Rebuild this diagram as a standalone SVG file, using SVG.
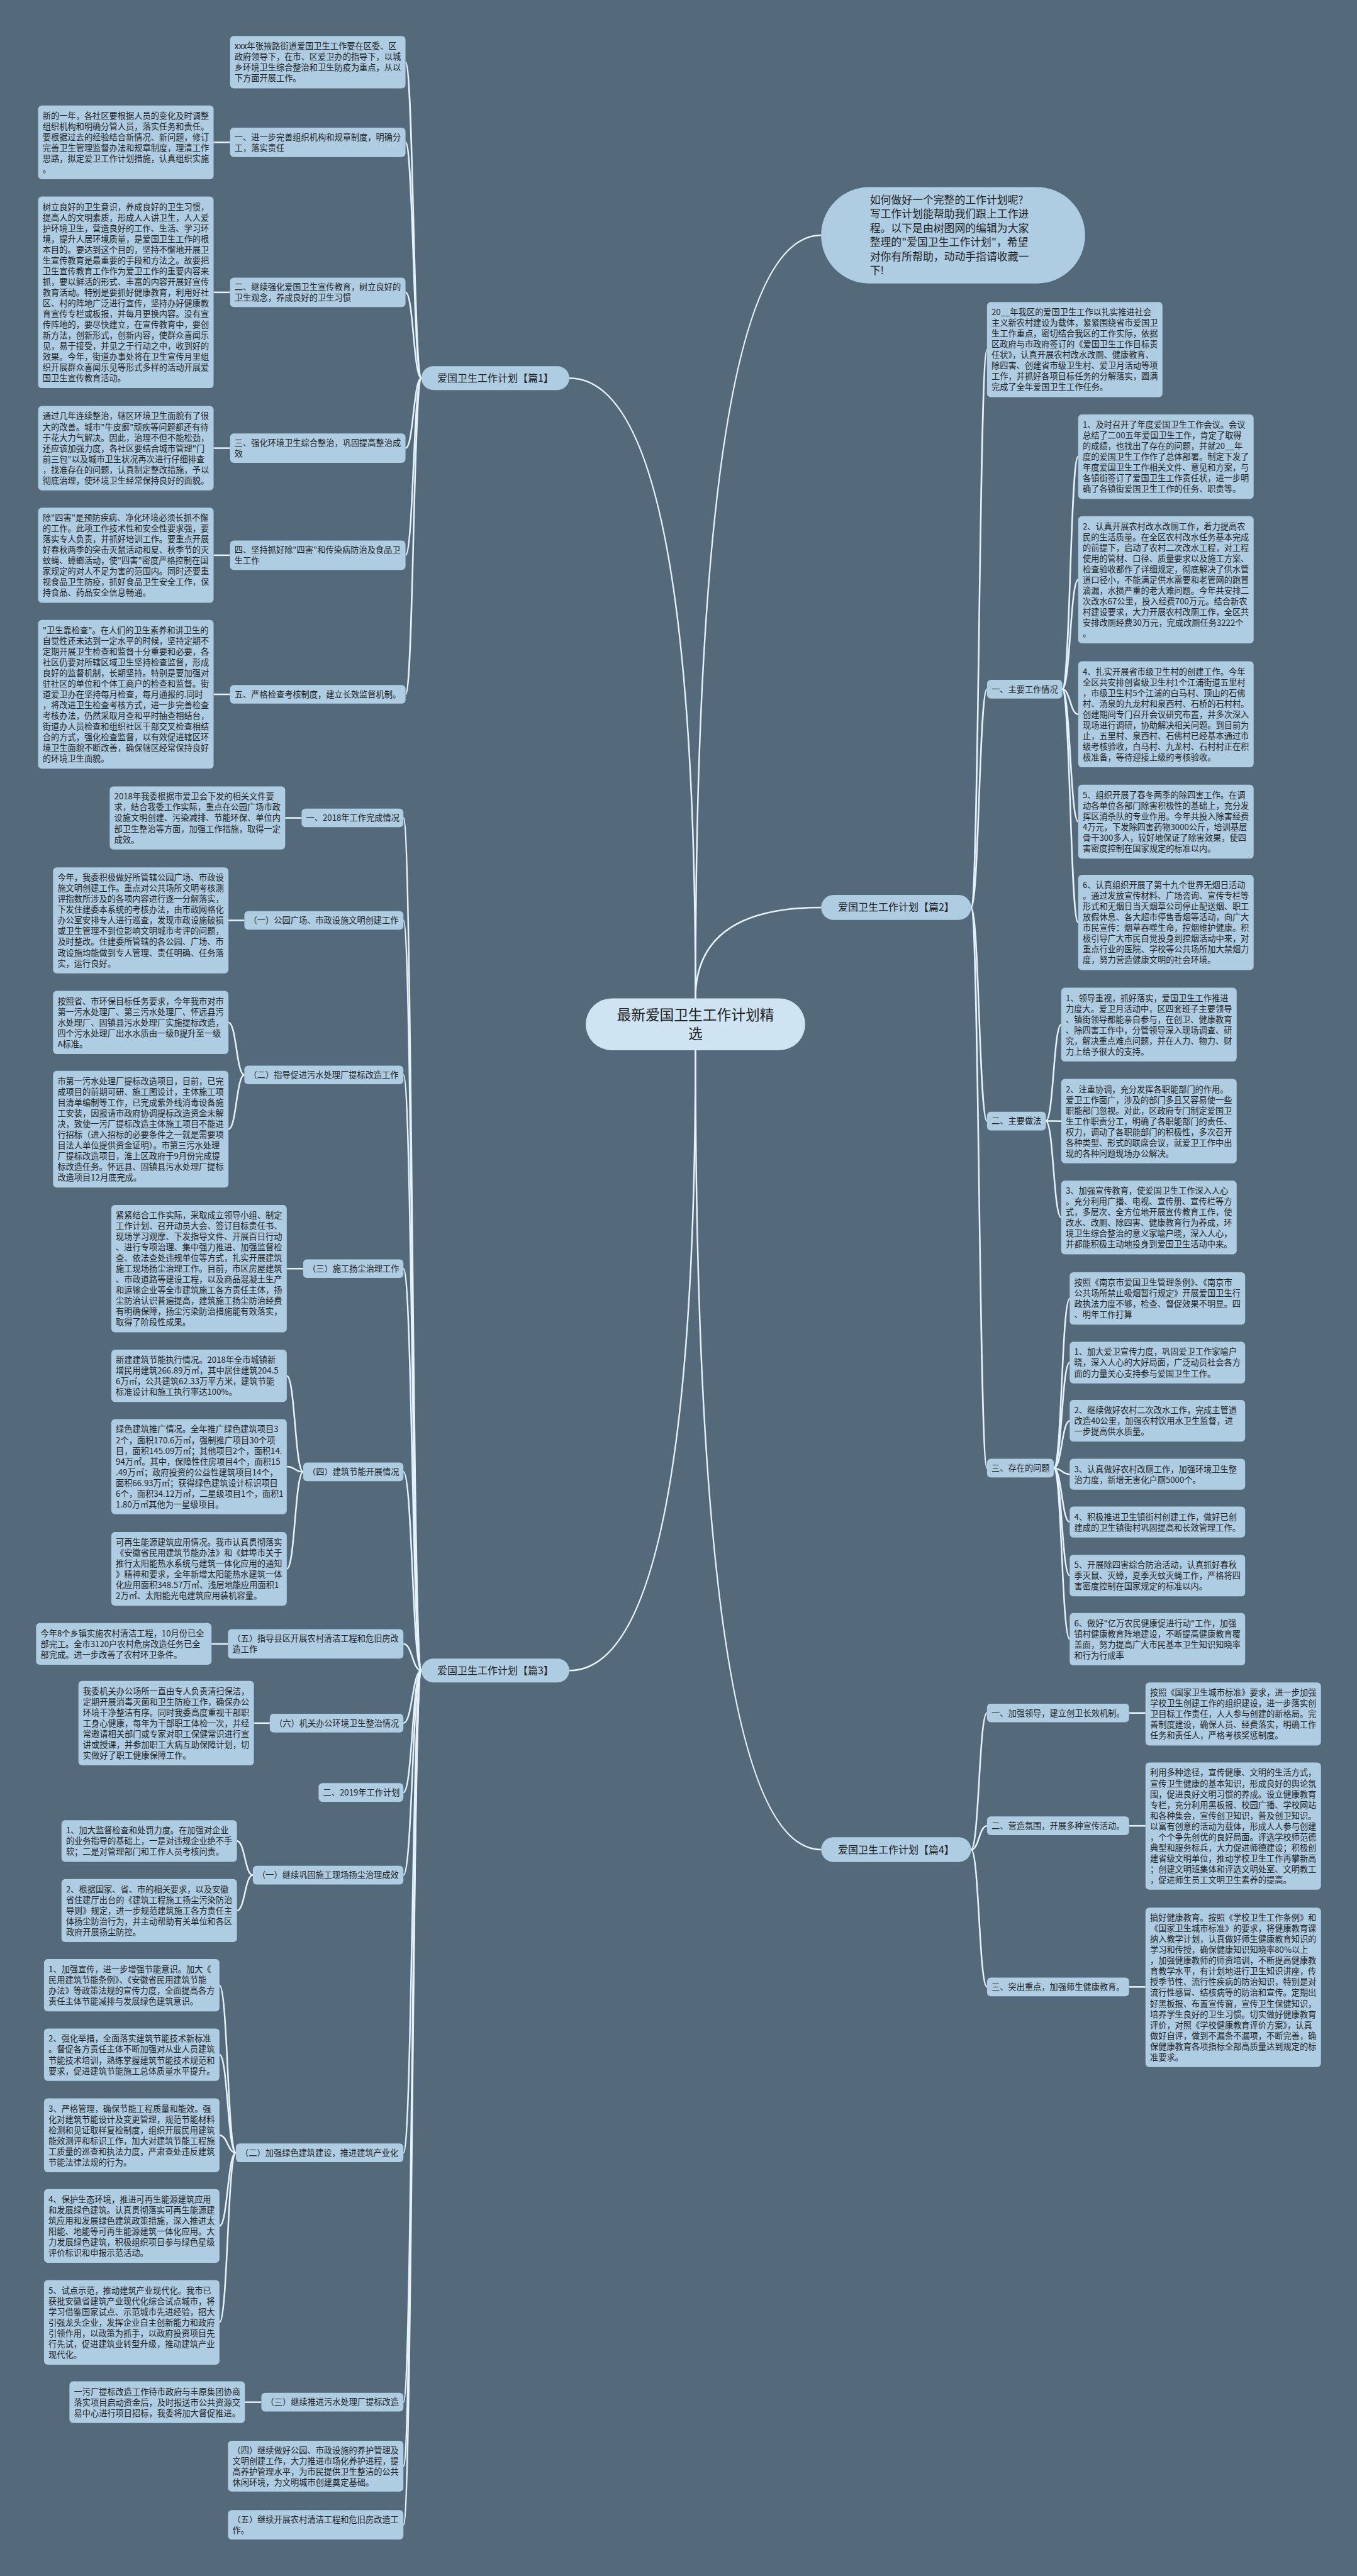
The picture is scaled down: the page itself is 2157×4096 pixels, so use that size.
<svg xmlns="http://www.w3.org/2000/svg" width="2157" height="4096" viewBox="0 0 2157 4096">
<defs>
<style>
.bg{fill:#546a7b}
.box{fill:#aecde3}
.br{fill:#aecde3}
.ctr{fill:#cfe4f2}
.t{font-family:"Noto Sans CJK SC","Noto Sans",sans-serif;font-size:15.7px;fill:#222}
.bt{font-family:"Noto Sans CJK SC","Noto Sans",sans-serif;font-size:19px;fill:#222;text-anchor:middle}
.ct{font-family:"Noto Sans CJK SC","Noto Sans",sans-serif;font-size:27px;fill:#222;text-anchor:middle}
.qt{font-family:"Noto Sans CJK SC","Noto Sans",sans-serif;font-size:20px;fill:#222}
.c{fill:none;stroke:#e6f2fa;stroke-width:3}
</style>
</defs>
<rect class="bg" x="0" y="0" width="2157" height="4096"/>
<g transform="scale(0.84258)">
<g id="connectors">
<path class="c" d="M1312 1884 Q1312 713.5 1074 713.5"/>
<path class="c" d="M1312 1884 Q1312 444 1549 444"/>
<path class="c" d="M1312 1884 Q1312 1712.5 1549 1712.5"/>
<path class="c" d="M1312 1982 Q1312 3152.5 1074 3152.5"/>
<path class="c" d="M1312 1982 Q1312 3490.5 1549 3490.5"/>
<path class="c" d="M795 713.5 C780 713.5 780 117.4 765 117.4"/>
<path class="c" d="M795 713.5 C780 713.5 780 268.6 765 268.6"/>
<path class="c" d="M795 713.5 C780 713.5 780 551.7 765 551.7"/>
<path class="c" d="M795 713.5 C780 713.5 780 845.7 765 845.7"/>
<path class="c" d="M795 713.5 C780 713.5 780 1047.8 765 1047.8"/>
<path class="c" d="M795 713.5 C780 713.5 780 1310.3 765 1310.3"/>
<path class="c" d="M403 268.6 L434 268.6"/>
<path class="c" d="M403 551.7 L434 551.7"/>
<path class="c" d="M403 845.7 L434 845.7"/>
<path class="c" d="M403 1047.8 L434 1047.8"/>
<path class="c" d="M403 1310.3 L434 1310.3"/>
<path class="c" d="M795 3152.5 C778 3152.5 778 1543.5 761 1543.5"/>
<path class="c" d="M795 3152.5 C778 3152.5 778 1736.9 761 1736.9"/>
<path class="c" d="M795 3152.5 C778 3152.5 778 2028.6 761 2028.6"/>
<path class="c" d="M795 3152.5 C778 3152.5 778 2394.1 761 2394.1"/>
<path class="c" d="M795 3152.5 C778 3152.5 778 2777.6 761 2777.6"/>
<path class="c" d="M795 3152.5 C778 3152.5 778 3102.3 761 3102.3"/>
<path class="c" d="M795 3152.5 C778 3152.5 778 3251.7 761 3251.7"/>
<path class="c" d="M795 3152.5 C778 3152.5 778 3382.6 761 3382.6"/>
<path class="c" d="M795 3152.5 C778 3152.5 778 3538.6 761 3538.6"/>
<path class="c" d="M795 3152.5 C778 3152.5 778 4062.6 761 4062.6"/>
<path class="c" d="M795 3152.5 C778 3152.5 778 4533.3 761 4533.3"/>
<path class="c" d="M795 3152.5 C778 3152.5 778 4654 761 4654"/>
<path class="c" d="M795 3152.5 C778 3152.5 778 4764.7 761 4764.7"/>
<path class="c" d="M538 1543.5 L569 1543.5"/>
<path class="c" d="M431 1736.9 L461 1736.9"/>
<path class="c" d="M461 2028.6 C446 2028.6 446 1929.5 431 1929.5"/>
<path class="c" d="M461 2028.6 C446 2028.6 446 2131 431 2131"/>
<path class="c" d="M541 2394.1 L572 2394.1"/>
<path class="c" d="M572 2777.6 C556.5 2777.6 556.5 2596.4 541 2596.4"/>
<path class="c" d="M572 2777.6 C556.5 2777.6 556.5 2767.8 541 2767.8"/>
<path class="c" d="M572 2777.6 C556.5 2777.6 556.5 2960.6 541 2960.6"/>
<path class="c" d="M399 3102.3 L430 3102.3"/>
<path class="c" d="M479 3251.7 L509 3251.7"/>
<path class="c" d="M477 3538.6 C462 3538.6 462 3474.3 447 3474.3"/>
<path class="c" d="M477 3538.6 C462 3538.6 462 3605.5 447 3605.5"/>
<path class="c" d="M445 4062.6 C429.5 4062.6 429.5 3746.4 414 3746.4"/>
<path class="c" d="M445 4062.6 C429.5 4062.6 429.5 3877.4 414 3877.4"/>
<path class="c" d="M445 4062.6 C429.5 4062.6 429.5 4029.6 414 4029.6"/>
<path class="c" d="M445 4062.6 C429.5 4062.6 429.5 4200.6 414 4200.6"/>
<path class="c" d="M445 4062.6 C429.5 4062.6 429.5 4382.7 414 4382.7"/>
<path class="c" d="M462 4533.3 L493 4533.3"/>
<path class="c" d="M1832 1712.5 C1847 1712.5 1847 659.8 1862 659.8"/>
<path class="c" d="M1832 1712.5 C1847 1712.5 1847 1300.6 1862 1300.6"/>
<path class="c" d="M1832 1712.5 C1847 1712.5 1847 2115.6 1862 2115.6"/>
<path class="c" d="M1832 1712.5 C1847 1712.5 1847 2770.6 1862 2770.6"/>
<path class="c" d="M2004 1300.6 C2019 1300.6 2019 861.7 2034 861.7"/>
<path class="c" d="M2004 1300.6 C2019 1300.6 2019 1094.1 2034 1094.1"/>
<path class="c" d="M2004 1300.6 C2019 1300.6 2019 1347.9 2034 1347.9"/>
<path class="c" d="M2004 1300.6 C2019 1300.6 2019 1550.6 2034 1550.6"/>
<path class="c" d="M2004 1300.6 C2019 1300.6 2019 1740.8 2034 1740.8"/>
<path class="c" d="M1973 2115.6 C1987.5 2115.6 1987.5 1933.6 2002 1933.6"/>
<path class="c" d="M1973 2115.6 C1987.5 2115.6 1987.5 2115.7 2002 2115.7"/>
<path class="c" d="M1973 2115.6 C1987.5 2115.6 1987.5 2297.6 2002 2297.6"/>
<path class="c" d="M1988 2770.6 C2003 2770.6 2003 2450.4 2018 2450.4"/>
<path class="c" d="M1988 2770.6 C2003 2770.6 2003 2571.3 2018 2571.3"/>
<path class="c" d="M1988 2770.6 C2003 2770.6 2003 2681.3 2018 2681.3"/>
<path class="c" d="M1988 2770.6 C2003 2770.6 2003 2782.2 2018 2782.2"/>
<path class="c" d="M1988 2770.6 C2003 2770.6 2003 2872.2 2018 2872.2"/>
<path class="c" d="M1988 2770.6 C2003 2770.6 2003 2973.3 2018 2973.3"/>
<path class="c" d="M1988 2770.6 C2003 2770.6 2003 3093.4 2018 3093.4"/>
<path class="c" d="M1832 3490.5 C1847 3490.5 1847 3232.6 1862 3232.6"/>
<path class="c" d="M1832 3490.5 C1847 3490.5 1847 3445.6 1862 3445.6"/>
<path class="c" d="M1832 3490.5 C1847 3490.5 1847 3749.6 1862 3749.6"/>
<path class="c" d="M2130 3232.6 L2161 3232.6"/>
<path class="c" d="M2130 3445.6 L2161 3445.6"/>
<path class="c" d="M2130 3749.6 L2161 3749.6"/>
</g>

<g id="center"><rect class="ctr" x="1105" y="1884" width="414" height="98" rx="49"/>
<text class="ct" x="1312" y="1925"><tspan x="1312">最新爱国卫生工作计划精</tspan><tspan x="1312" dy="36">选</tspan></text></g>

<g id="intro-bubble"><rect class="box" x="1549" y="353" width="498" height="182" rx="91"/>
<text class="qt" x="1641" y="384"><tspan x="1641">如何做好一个完整的工作计划呢?</tspan><tspan x="1641" dy="26.7">写工作计划能帮助我们跟上工作进</tspan><tspan x="1641" dy="26.7">程。以下是由树图网的编辑为大家</tspan><tspan x="1641" dy="26.7">整理的"爱国卫生工作计划"，希望</tspan><tspan x="1641" dy="26.7">对你有所帮助，动动手指请收藏一</tspan><tspan x="1641" dy="26.7">下!</tspan></text></g>

<g id="pian1"><rect class="br" x="795" y="691" width="279" height="45" rx="22.5"/><text class="bt" x="934.5" y="720">爱国卫生工作计划【篇1】</text></g>
<g id="pian2"><rect class="br" x="1549" y="1689" width="283" height="47" rx="23.5"/><text class="bt" x="1690.5" y="1719">爱国卫生工作计划【篇2】</text></g>
<g id="pian3"><rect class="br" x="795" y="3130" width="279" height="45" rx="22.5"/><text class="bt" x="934.5" y="3159">爱国卫生工作计划【篇3】</text></g>
<g id="pian4"><rect class="br" x="1549" y="3467" width="283" height="47" rx="23.5"/><text class="bt" x="1690.5" y="3497">爱国卫生工作计划【篇4】</text></g>

<!-- 篇1 -->
<g id="p1-intro"><rect class="box" x="434" y="68" width="331" height="98.8" rx="7"/>
<text class="t" x="442.5" y="93"><tspan x="442.5">xxx年张掖路街道爱国卫生工作要在区委、区</tspan><tspan x="442.5" dy="20.2">政府领导下，在市、区爱卫办的指导下，以城</tspan><tspan x="442.5" dy="20.2">乡环境卫生综合整治和卫生防疫为重点，从以</tspan><tspan x="442.5" dy="20.2">下方面开展工作。</tspan></text></g>

<g id="p1-l1"><rect class="box" x="72" y="199" width="331" height="139.2" rx="7"/>
<text class="t" x="80.5" y="224"><tspan x="80.5">新的一年，各社区要根据人员的变化及时调整</tspan><tspan x="80.5" dy="20.2">组织机构和明确分管人员，落实任务和责任。</tspan><tspan x="80.5" dy="20.2">要根据过去的经验结合新情况、新问题，修订</tspan><tspan x="80.5" dy="20.2">完善卫生管理监督办法和规章制度，理清工作</tspan><tspan x="80.5" dy="20.2">思路，拟定爱卫工作计划措施，认真组织实施</tspan><tspan x="80.5" dy="20.2">。</tspan></text></g>
<g id="p1-n1"><rect class="box" x="434" y="240.9" width="331" height="55.4" rx="7"/>
<text class="t" x="442.5" y="264.2"><tspan x="442.5">一、进一步完善组织机构和规章制度，明确分</tspan><tspan x="442.5" dy="20.2">工，落实责任</tspan></text></g>

<g id="p1-l2"><rect class="box" x="72" y="371" width="331" height="361.4" rx="7"/>
<text class="t" x="80.5" y="396"><tspan x="80.5">树立良好的卫生意识，养成良好的卫生习惯，</tspan><tspan x="80.5" dy="20.2">提高人的文明素质，形成人人讲卫生，人人爱</tspan><tspan x="80.5" dy="20.2">护环境卫生，营造良好的工作、生活、学习环</tspan><tspan x="80.5" dy="20.2">境，提升人居环境质量，是爱国卫生工作的根</tspan><tspan x="80.5" dy="20.2">本目的。要达到这个目的，坚持不懈地开展卫</tspan><tspan x="80.5" dy="20.2">生宣传教育是最重要的手段和方法之。故要把</tspan><tspan x="80.5" dy="20.2">卫生宣传教育工作作为爱卫工作的重要内容来</tspan><tspan x="80.5" dy="20.2">抓，要以鲜活的形式、丰富的内容开展好宣传</tspan><tspan x="80.5" dy="20.2">教育活动。特别是要抓好健康教育，利用好社</tspan><tspan x="80.5" dy="20.2">区、村的阵地广泛进行宣传，坚持办好健康教</tspan><tspan x="80.5" dy="20.2">育宣传专栏或板报，并每月更换内容。没有宣</tspan><tspan x="80.5" dy="20.2">传阵地的，要尽快建立，在宣传教育中，要创</tspan><tspan x="80.5" dy="20.2">新方法，创新形式，创新内容，使群众喜闻乐</tspan><tspan x="80.5" dy="20.2">见，易于接受，并见之于行动之中，收到好的</tspan><tspan x="80.5" dy="20.2">效果。今年，街道办事处将在卫生宣传月里组</tspan><tspan x="80.5" dy="20.2">织开展群众喜闻乐见等形式多样的活动开展爱</tspan><tspan x="80.5" dy="20.2">国卫生宣传教育活动。</tspan></text></g>
<g id="p1-n2"><rect class="box" x="434" y="524" width="331" height="55.4" rx="7"/>
<text class="t" x="442.5" y="547.3"><tspan x="442.5">二、继续强化爱国卫生宣传教育，树立良好的</tspan><tspan x="442.5" dy="20.2">卫生观念，养成良好的卫生习惯</tspan></text></g>

<g id="p1-l3"><rect class="box" x="72" y="766" width="331" height="159.4" rx="7"/>
<text class="t" x="80.5" y="791"><tspan x="80.5">通过几年连续整治，辖区环境卫生面貌有了很</tspan><tspan x="80.5" dy="20.2">大的改善。城市"牛皮癣"顽疾等问题都还有待</tspan><tspan x="80.5" dy="20.2">于花大力气解决。因此，治理不但不能松劲，</tspan><tspan x="80.5" dy="20.2">还应该加强力度，各社区要结合城市管理"门</tspan><tspan x="80.5" dy="20.2">前三包"以及城市卫生状况再次进行仔细排查</tspan><tspan x="80.5" dy="20.2">，找准存在的问题，认真制定整改措施，予以</tspan><tspan x="80.5" dy="20.2">彻底治理，使环境卫生经常保持良好的面貌。</tspan></text></g>
<g id="p1-n3"><rect class="box" x="434" y="818" width="331" height="55.4" rx="7"/>
<text class="t" x="442.5" y="841.3"><tspan x="442.5">三、强化环境卫生综合整治，巩固提高整治成</tspan><tspan x="442.5" dy="20.2">效</tspan></text></g>

<g id="p1-l4"><rect class="box" x="72" y="958" width="331" height="179.6" rx="7"/>
<text class="t" x="80.5" y="983"><tspan x="80.5">除"四害"是预防疾病、净化环境必须长抓不懈</tspan><tspan x="80.5" dy="20.2">的工作。此项工作技术性和安全性要求强，要</tspan><tspan x="80.5" dy="20.2">落实专人负责，并抓好培训工作。要重点开展</tspan><tspan x="80.5" dy="20.2">好春秋两季的突击灭鼠活动和夏、秋季节的灭</tspan><tspan x="80.5" dy="20.2">蚊蝇、蟑螂活动，使"四害"密度严格控制在国</tspan><tspan x="80.5" dy="20.2">家规定的对人不足为害的范围内。同时还要重</tspan><tspan x="80.5" dy="20.2">视食品卫生防疫，抓好食品卫生安全工作，保</tspan><tspan x="80.5" dy="20.2">持食品、药品安全信息畅通。</tspan></text></g>
<g id="p1-n4"><rect class="box" x="434" y="1020.1" width="331" height="55.4" rx="7"/>
<text class="t" x="442.5" y="1043.4"><tspan x="442.5">四、坚持抓好除"四害"和传染病防治及食品卫</tspan><tspan x="442.5" dy="20.2">生工作</tspan></text></g>

<g id="p1-l5"><rect class="box" x="72" y="1170" width="331" height="280.6" rx="7"/>
<text class="t" x="80.5" y="1195"><tspan x="80.5">"卫生靠检查"。在人们的卫生素养和讲卫生的</tspan><tspan x="80.5" dy="20.2">自觉性还未达到一定水平的时候，坚持定期不</tspan><tspan x="80.5" dy="20.2">定期开展卫生检查和监督十分重要和必要，各</tspan><tspan x="80.5" dy="20.2">社区仍要对所辖区域卫生坚持检查监督，形成</tspan><tspan x="80.5" dy="20.2">良好的监督机制，长期坚持。特别是要加强对</tspan><tspan x="80.5" dy="20.2">驻社区的单位和个体工商户的检查和监督。街</tspan><tspan x="80.5" dy="20.2">道爱卫办在坚持每月检查，每月通报的.同时</tspan><tspan x="80.5" dy="20.2">，将改进卫生检查考核方式，进一步完善检查</tspan><tspan x="80.5" dy="20.2">考核办法，仍然采取月查和平时抽查相结台，</tspan><tspan x="80.5" dy="20.2">街道办人员检查和组织社区干部交叉检查相结</tspan><tspan x="80.5" dy="20.2">合的方式，强化检查监督，以有效促进辖区环</tspan><tspan x="80.5" dy="20.2">境卫生面貌不断改善，确保辖区经常保持良好</tspan><tspan x="80.5" dy="20.2">的环境卫生面貌。</tspan></text></g>
<g id="p1-n5"><rect class="box" x="434" y="1292.7" width="331" height="35.2" rx="7"/>
<text class="t" x="442.5" y="1316"><tspan x="442.5">五、严格检查考核制度，建立长效监督机制。</tspan></text></g>

<!-- 篇3 -->
<g id="p3-a"><rect class="box" x="207" y="1484" width="331" height="119" rx="7"/>
<text class="t" x="215.5" y="1509"><tspan x="215.5">2018年我委根据市爱卫会下发的相关文件要</tspan><tspan x="215.5" dy="20.2">求，结合我委工作实际，重点在公园广场市政</tspan><tspan x="215.5" dy="20.2">设施文明创建、污染减排、节能环保、单位内</tspan><tspan x="215.5" dy="20.2">部卫生整治等方面，加强工作措施，取得一定</tspan><tspan x="215.5" dy="20.2">成效。</tspan></text></g>
<g id="p3-n1"><rect class="box" x="569" y="1525.9" width="192" height="35.2" rx="7"/>
<text class="t" x="577.5" y="1549.2">一、2018年工作完成情况</text></g>

<g id="p3-b"><rect class="box" x="100" y="1637" width="331" height="199.8" rx="7"/>
<text class="t" x="108.5" y="1662"><tspan x="108.5">今年，我委积极做好所管辖公园广场、市政设</tspan><tspan x="108.5" dy="20.2">施文明创建工作。重点对公共场所文明考核测</tspan><tspan x="108.5" dy="20.2">评指数所涉及的各项内容进行逐一分解落实，</tspan><tspan x="108.5" dy="20.2">下发住建委本系统的考核办法，由市政网格化</tspan><tspan x="108.5" dy="20.2">办公室安排专人进行巡查，发现市政设施破损</tspan><tspan x="108.5" dy="20.2">或卫生管理不到位影响文明城市考评的问题，</tspan><tspan x="108.5" dy="20.2">及时整改。住建委所管辖的各公园、广场、市</tspan><tspan x="108.5" dy="20.2">政设施均能做到专人管理、责任明确、任务落</tspan><tspan x="108.5" dy="20.2">实，运行良好。</tspan></text></g>
<g id="p3-n2"><rect class="box" x="461" y="1719.3" width="300" height="35.2" rx="7"/>
<text class="t" x="469.5" y="1742.6">（一）公园广场、市政设施文明创建工作</text></g>

<g id="p3-c"><rect class="box" x="100" y="1870" width="331" height="119" rx="7"/>
<text class="t" x="108.5" y="1895"><tspan x="108.5">按照省、市环保目标任务要求，今年我市对市</tspan><tspan x="108.5" dy="20.2">第一污水处理厂、第三污水处理厂、怀远县污</tspan><tspan x="108.5" dy="20.2">水处理厂、固镇县污水处理厂实施提标改造，</tspan><tspan x="108.5" dy="20.2">四个污水处理厂出水水质由一级B提升至一级</tspan><tspan x="108.5" dy="20.2">A标准。</tspan></text></g>
<g id="p3-d"><rect class="box" x="100" y="2021" width="331" height="220" rx="7"/>
<text class="t" x="108.5" y="2046"><tspan x="108.5">市第一污水处理厂提标改造项目，目前，已完</tspan><tspan x="108.5" dy="20.2">成项目的前期可研、施工图设计，主体施工项</tspan><tspan x="108.5" dy="20.2">目清单编制等工作，已完成紫外线消毒设备施</tspan><tspan x="108.5" dy="20.2">工安装，因报请市政府协调提标改造资金未解</tspan><tspan x="108.5" dy="20.2">决，致使一污厂提标改造主体施工项目不能进</tspan><tspan x="108.5" dy="20.2">行招标（进入招标的必要条件之一就是需要项</tspan><tspan x="108.5" dy="20.2">目法人单位提供资金证明）。市第三污水处理</tspan><tspan x="108.5" dy="20.2">厂提标改造项目，淮上区政府于9月份完成提</tspan><tspan x="108.5" dy="20.2">标改造任务。怀远县、固镇县污水处理厂提标</tspan><tspan x="108.5" dy="20.2">改造项目12月底完成。</tspan></text></g>
<g id="p3-n3"><rect class="box" x="461" y="2011" width="300" height="35.2" rx="7"/>
<text class="t" x="469.5" y="2034.3">（二）指导促进污水处理厂提标改造工作</text></g>

<g id="p3-e"><rect class="box" x="210" y="2274" width="331" height="240.2" rx="7"/>
<text class="t" x="218.5" y="2299"><tspan x="218.5">紧紧结合工作实际，采取成立领导小组、制定</tspan><tspan x="218.5" dy="20.2">工作计划、召开动员大会、签订目标责任书、</tspan><tspan x="218.5" dy="20.2">现场学习观摩、下发指导文件、开展百日行动</tspan><tspan x="218.5" dy="20.2">、进行专项治理、集中强力推进、加强监督检</tspan><tspan x="218.5" dy="20.2">查、依法查处违规单位等方式，扎实开展建筑</tspan><tspan x="218.5" dy="20.2">施工现场扬尘治理工作。目前，市区房屋建筑</tspan><tspan x="218.5" dy="20.2">、市政道路等建设工程，以及商品混凝土生产</tspan><tspan x="218.5" dy="20.2">和运输企业等全市建筑施工各方责任主体，扬</tspan><tspan x="218.5" dy="20.2">尘防治认识普遍提高，建筑施工扬尘防治经费</tspan><tspan x="218.5" dy="20.2">有明确保障，扬尘污染防治措施能有效落实，</tspan><tspan x="218.5" dy="20.2">取得了阶段性成果。</tspan></text></g>
<g id="p3-n4"><rect class="box" x="572" y="2376.5" width="189" height="35.2" rx="7"/>
<text class="t" x="580.5" y="2399.8">（三）施工扬尘治理工作</text></g>

<g id="p3-f"><rect class="box" x="210" y="2547" width="331" height="98.8" rx="7"/>
<text class="t" x="218.5" y="2572"><tspan x="218.5">新建建筑节能执行情况。2018年全市城镇新</tspan><tspan x="218.5" dy="20.2">增民用建筑266.89万㎡，其中居住建筑204.5</tspan><tspan x="218.5" dy="20.2">6万㎡，公共建筑62.33万平方米，建筑节能</tspan><tspan x="218.5" dy="20.2">标准设计和施工执行率达100%。</tspan></text></g>
<g id="p3-g"><rect class="box" x="210" y="2678" width="331" height="179.6" rx="7"/>
<text class="t" x="218.5" y="2703"><tspan x="218.5">绿色建筑推广情况。全年推广绿色建筑项目3</tspan><tspan x="218.5" dy="20.2">2个，面积170.6万㎡，强制推广项目30个项</tspan><tspan x="218.5" dy="20.2">目，面积145.09万㎡；其他项目2个，面积14.</tspan><tspan x="218.5" dy="20.2">94万㎡。其中，保障性住房项目4个，面积15</tspan><tspan x="218.5" dy="20.2">.49万㎡；政府投资的公益性建筑项目14个，</tspan><tspan x="218.5" dy="20.2">面积66.93万㎡；获得绿色建筑设计标识项目</tspan><tspan x="218.5" dy="20.2">6个，面积34.12万㎡，二星级项目1个，面积1</tspan><tspan x="218.5" dy="20.2">1.80万㎡其他为一星级项目。</tspan></text></g>
<g id="p3-h"><rect class="box" x="210" y="2891" width="331" height="139.2" rx="7"/>
<text class="t" x="218.5" y="2916"><tspan x="218.5">可再生能源建筑应用情况。我市认真贯彻落实</tspan><tspan x="218.5" dy="20.2">《安徽省民用建筑节能办法》和《蚌埠市关于</tspan><tspan x="218.5" dy="20.2">推行太阳能热水系统与建筑一体化应用的通知</tspan><tspan x="218.5" dy="20.2">》精神和要求，全年新增太阳能热水建筑一体</tspan><tspan x="218.5" dy="20.2">化应用面积348.57万㎡、浅层地能应用面积1</tspan><tspan x="218.5" dy="20.2">2万㎡、太阳能光电建筑应用装机容量。</tspan></text></g>
<g id="p3-n5"><rect class="box" x="572" y="2760" width="189" height="35.2" rx="7"/>
<text class="t" x="580.5" y="2783.3">（四）建筑节能开展情况</text></g>

<g id="p3-i"><rect class="box" x="68" y="3063" width="331" height="78.6" rx="7"/>
<text class="t" x="76.5" y="3088"><tspan x="76.5">今年8个乡镇实施农村清洁工程，10月份已全</tspan><tspan x="76.5" dy="20.2">部完工。全市3120户农村危房改造任务已全</tspan><tspan x="76.5" dy="20.2">部完成。进一步改善了农村环卫条件。</tspan></text></g>
<g id="p3-n6"><rect class="box" x="430" y="3074.6" width="331" height="55.4" rx="7"/>
<text class="t" x="438.5" y="3097.9"><tspan x="438.5">（五）指导县区开展农村清洁工程和危旧房改</tspan><tspan x="438.5" dy="20.2">造工作</tspan></text></g>

<g id="p3-j"><rect class="box" x="148" y="3172" width="331" height="159.4" rx="7"/>
<text class="t" x="156.5" y="3197"><tspan x="156.5">我委机关办公场所一直由专人负责清扫保洁，</tspan><tspan x="156.5" dy="20.2">定期开展消毒灭菌和卫生防疫工作，确保办公</tspan><tspan x="156.5" dy="20.2">环境干净整洁有序。同时我委高度重视干部职</tspan><tspan x="156.5" dy="20.2">工身心健康，每年为干部职工体检一次，并经</tspan><tspan x="156.5" dy="20.2">常邀请相关部门或专家对职工保健常识进行宣</tspan><tspan x="156.5" dy="20.2">讲或授课，并参加职工大病互助保障计划，切</tspan><tspan x="156.5" dy="20.2">实做好了职工健康保障工作。</tspan></text></g>
<g id="p3-n7"><rect class="box" x="509" y="3234.1" width="252" height="35.2" rx="7"/>
<text class="t" x="517.5" y="3257.4">（六）机关办公环境卫生整治情况</text></g>

<g id="p3-n8"><rect class="box" x="601" y="3365" width="160" height="35.2" rx="7"/>
<text class="t" x="609.5" y="3388.3">二、2019年工作计划</text></g>

<g id="p3-k"><rect class="box" x="116" y="3435" width="331" height="78.6" rx="7"/>
<text class="t" x="124.5" y="3460"><tspan x="124.5">1、加大监督检查和处罚力度。在加强对企业</tspan><tspan x="124.5" dy="20.2">的业务指导的基础上，一是对违规企业绝不手</tspan><tspan x="124.5" dy="20.2">软；二是对管理部门和工作人员考核问责。</tspan></text></g>
<g id="p3-l"><rect class="box" x="116" y="3546" width="331" height="119" rx="7"/>
<text class="t" x="124.5" y="3571"><tspan x="124.5">2、根据国家、省、市的相关要求，以及安徽</tspan><tspan x="124.5" dy="20.2">省住建厅出台的《建筑工程施工扬尘污染防治</tspan><tspan x="124.5" dy="20.2">导则》规定，进一步规范建筑施工各方责任主</tspan><tspan x="124.5" dy="20.2">体扬尘防治行为，并主动帮助有关单位和各区</tspan><tspan x="124.5" dy="20.2">政府开展扬尘防控。</tspan></text></g>
<g id="p3-n9"><rect class="box" x="477" y="3521" width="284" height="35.2" rx="7"/>
<text class="t" x="485.5" y="3544.3">（一）继续巩固施工现场扬尘治理成效</text></g>

<g id="p3-m"><rect class="box" x="83" y="3697" width="331" height="98.8" rx="7"/>
<text class="t" x="91.5" y="3722"><tspan x="91.5">1、加强宣传，进一步增强节能意识。加大《</tspan><tspan x="91.5" dy="20.2">民用建筑节能条例》、《安徽省民用建筑节能</tspan><tspan x="91.5" dy="20.2">办法》等政策法规的宣传力度，全面提高各方</tspan><tspan x="91.5" dy="20.2">责任主体节能减排与发展绿色建筑意识。</tspan></text></g>
<g id="p3-n"><rect class="box" x="83" y="3828" width="331" height="98.8" rx="7"/>
<text class="t" x="91.5" y="3853"><tspan x="91.5">2、强化举措，全面落实建筑节能技术新标准</tspan><tspan x="91.5" dy="20.2">。督促各方责任主体不断加强对从业人员建筑</tspan><tspan x="91.5" dy="20.2">节能技术培训，熟练掌握建筑节能技术规范和</tspan><tspan x="91.5" dy="20.2">要求，促进建筑节能施工总体质量水平提升。</tspan></text></g>
<g id="p3-o"><rect class="box" x="83" y="3960" width="331" height="139.2" rx="7"/>
<text class="t" x="91.5" y="3985"><tspan x="91.5">3、严格管理，确保节能工程质量和能效。强</tspan><tspan x="91.5" dy="20.2">化对建筑节能设计及变更管理，规范节能材料</tspan><tspan x="91.5" dy="20.2">检测和见证取样复检制度，组织开展民用建筑</tspan><tspan x="91.5" dy="20.2">能效测评和标识工作，加大对建筑节能工程施</tspan><tspan x="91.5" dy="20.2">工质量的巡查和执法力度，严肃查处违反建筑</tspan><tspan x="91.5" dy="20.2">节能法律法规的行为。</tspan></text></g>
<g id="p3-p"><rect class="box" x="83" y="4131" width="331" height="139.2" rx="7"/>
<text class="t" x="91.5" y="4156"><tspan x="91.5">4、保护生态环境，推进可再生能源建筑应用</tspan><tspan x="91.5" dy="20.2">和发展绿色建筑。认真贯彻落实可再生能源建</tspan><tspan x="91.5" dy="20.2">筑应用和发展绿色建筑政策措施，深入推进太</tspan><tspan x="91.5" dy="20.2">阳能、地能等可再生能源建筑一体化应用。大</tspan><tspan x="91.5" dy="20.2">力发展绿色建筑，积极组织项目参与绿色星级</tspan><tspan x="91.5" dy="20.2">评价标识和申报示范活动。</tspan></text></g>
<g id="p3-q"><rect class="box" x="83" y="4303" width="331" height="159.4" rx="7"/>
<text class="t" x="91.5" y="4328"><tspan x="91.5">5、试点示范，推动建筑产业现代化。我市已</tspan><tspan x="91.5" dy="20.2">获批安徽省建筑产业现代化综合试点城市，将</tspan><tspan x="91.5" dy="20.2">学习借鉴国家试点、示范城市先进经验，招大</tspan><tspan x="91.5" dy="20.2">引强龙头企业，发挥企业自主创新能力和政府</tspan><tspan x="91.5" dy="20.2">引领作用，以政策为抓手，以政府投资项目先</tspan><tspan x="91.5" dy="20.2">行先试，促进建筑业转型升级，推动建筑产业</tspan><tspan x="91.5" dy="20.2">现代化。</tspan></text></g>
<g id="p3-n10"><rect class="box" x="445" y="4045" width="316" height="35.2" rx="7"/>
<text class="t" x="453.5" y="4068.3">（二）加强绿色建筑建设，推进建筑产业化</text></g>

<g id="p3-r"><rect class="box" x="131" y="4494" width="331" height="78.6" rx="7"/>
<text class="t" x="139.5" y="4519"><tspan x="139.5">一污厂提标改造工作待市政府与丰原集团协商</tspan><tspan x="139.5" dy="20.2">落实项目启动资金后，及时报送市公共资源交</tspan><tspan x="139.5" dy="20.2">易中心进行项目招标，我委将加大督促推进。</tspan></text></g>
<g id="p3-n11"><rect class="box" x="493" y="4515.7" width="268" height="35.2" rx="7"/>
<text class="t" x="501.5" y="4539">（三）继续推进污水处理厂提标改造</text></g>

<g id="p3-n12"><rect class="box" x="430" y="4606" width="331" height="95.8" rx="7"/>
<text class="t" x="438.5" y="4629.3"><tspan x="438.5">（四）继续做好公园、市政设施的养护管理及</tspan><tspan x="438.5" dy="20.2">文明创建工作，大力推进市场化养护进程，提</tspan><tspan x="438.5" dy="20.2">高养护管理水平，为市民提供卫生整洁的公共</tspan><tspan x="438.5" dy="20.2">休闲环境，为文明城市创建奠定基础。</tspan></text></g>
<g id="p3-n13"><rect class="box" x="430" y="4737" width="331" height="55.4" rx="7"/>
<text class="t" x="438.5" y="4760.3"><tspan x="438.5">（五）继续开展农村清洁工程和危旧房改造工</tspan><tspan x="438.5" dy="20.2">作。</tspan></text></g>

<!-- 篇2 -->
<g id="p2-intro"><rect class="box" x="1862" y="570" width="331" height="179.6" rx="7"/>
<text class="t" x="1870.5" y="595"><tspan x="1870.5">20__年我区的爱国卫生工作以扎实推进社会</tspan><tspan x="1870.5" dy="20.2">主义新农村建设为载体，紧紧围绕省市爱国卫</tspan><tspan x="1870.5" dy="20.2">生工作重点，密切结合我区的工作实际，依据</tspan><tspan x="1870.5" dy="20.2">区政府与市政府签订的《爱国卫生工作目标责</tspan><tspan x="1870.5" dy="20.2">任状》，认真开展农村改水改厕、健康教育、</tspan><tspan x="1870.5" dy="20.2">除四害、创建省市级卫生村、爱卫月活动等项</tspan><tspan x="1870.5" dy="20.2">工作，并抓好各项目标任务的分解落实，圆满</tspan><tspan x="1870.5" dy="20.2">完成了全年爱国卫生工作任务。</tspan></text></g>

<g id="p2-n1"><rect class="box" x="1862" y="1283" width="142" height="35.2" rx="7"/>
<text class="t" x="1870.5" y="1306.3">一、主要工作情况</text></g>
<g id="p2-1a"><rect class="box" x="2034" y="782" width="331" height="159.4" rx="7"/>
<text class="t" x="2042.5" y="807"><tspan x="2042.5">1、及时召开了年度爱国卫生工作会议。会议</tspan><tspan x="2042.5" dy="20.2">总结了二00五年爱国卫生工作，肯定了取得</tspan><tspan x="2042.5" dy="20.2">的成绩，也找出了存在的问题，并就20__年</tspan><tspan x="2042.5" dy="20.2">度的爱国卫生工作作了总体部署。制定下发了</tspan><tspan x="2042.5" dy="20.2">年度爱国卫生工作相关文件、意见和方案，与</tspan><tspan x="2042.5" dy="20.2">各镇街签订了爱国卫生工作责任状，进一步明</tspan><tspan x="2042.5" dy="20.2">确了各镇街爱国卫生工作的任务、职责等。</tspan></text></g>
<g id="p2-1b"><rect class="box" x="2034" y="974" width="331" height="240.2" rx="7"/>
<text class="t" x="2042.5" y="999"><tspan x="2042.5">2、认真开展农村改水改厕工作，着力提高农</tspan><tspan x="2042.5" dy="20.2">民的生活质量。在全区农村改水任务基本完成</tspan><tspan x="2042.5" dy="20.2">的前提下，启动了农村二次改水工程，对工程</tspan><tspan x="2042.5" dy="20.2">使用的管材、口径、质量要求以及施工方案、</tspan><tspan x="2042.5" dy="20.2">检查验收都作了详细规定，彻底解决了供水管</tspan><tspan x="2042.5" dy="20.2">道口径小，不能满足供水需要和老管网的跑冒</tspan><tspan x="2042.5" dy="20.2">滴漏，水损严重的老大难问题。今年共安排二</tspan><tspan x="2042.5" dy="20.2">次改水67公里，投入经费700万元。结合新农</tspan><tspan x="2042.5" dy="20.2">村建设要求，大力开展农村改厕工作，全区共</tspan><tspan x="2042.5" dy="20.2">安排改厕经费30万元，完成改厕任务3222个</tspan><tspan x="2042.5" dy="20.2">。</tspan></text></g>
<g id="p2-1c"><rect class="box" x="2034" y="1248" width="331" height="199.8" rx="7"/>
<text class="t" x="2042.5" y="1273"><tspan x="2042.5">4、扎实开展省市级卫生村的创建工作。今年</tspan><tspan x="2042.5" dy="20.2">全区共安排创省级卫生村1个江浦街道五里村</tspan><tspan x="2042.5" dy="20.2">，市级卫生村5个江浦的白马村、顶山的石佛</tspan><tspan x="2042.5" dy="20.2">村、汤泉的九龙村和泉西村、石桥的石村村。</tspan><tspan x="2042.5" dy="20.2">创建期间专门召开会议研究布置，并多次深入</tspan><tspan x="2042.5" dy="20.2">现场进行调研，协助解决相关问题。到目前为</tspan><tspan x="2042.5" dy="20.2">止，五里村、泉西村、石佛村已经基本通过市</tspan><tspan x="2042.5" dy="20.2">级考核验收，白马村、九龙村、石村村正在积</tspan><tspan x="2042.5" dy="20.2">极准备，等待迎接上级的考核验收。</tspan></text></g>
<g id="p2-1d"><rect class="box" x="2034" y="1481" width="331" height="139.2" rx="7"/>
<text class="t" x="2042.5" y="1506"><tspan x="2042.5">5、组织开展了春冬两季的除四害工作。在调</tspan><tspan x="2042.5" dy="20.2">动各单位各部门除害积极性的基础上，充分发</tspan><tspan x="2042.5" dy="20.2">挥区消杀队的专业作用。今年共投入除害经费</tspan><tspan x="2042.5" dy="20.2">4万元，下发除四害药物3000公斤，培训基层</tspan><tspan x="2042.5" dy="20.2">骨干300多人，较好地保证了除害效果，使四</tspan><tspan x="2042.5" dy="20.2">害密度控制在国家规定的标准以内。</tspan></text></g>
<g id="p2-1e"><rect class="box" x="2034" y="1651" width="331" height="179.6" rx="7"/>
<text class="t" x="2042.5" y="1676"><tspan x="2042.5">6、认真组织开展了第十九个世界无烟日活动</tspan><tspan x="2042.5" dy="20.2">。通过发放宣传材料、广场咨询、宣传专栏等</tspan><tspan x="2042.5" dy="20.2">形式和无烟日当天烟草公司停止配送烟、职工</tspan><tspan x="2042.5" dy="20.2">放假休息、各大超市停售香烟等活动，向广大</tspan><tspan x="2042.5" dy="20.2">市民宣传：烟草吞噬生命，控烟维护健康。积</tspan><tspan x="2042.5" dy="20.2">极引导广大市民自觉投身到控烟活动中来，对</tspan><tspan x="2042.5" dy="20.2">重点行业的医院、学校等公共场所加大禁烟力</tspan><tspan x="2042.5" dy="20.2">度，努力营造健康文明的社会环境。</tspan></text></g>

<g id="p2-n2"><rect class="box" x="1862" y="2098" width="111" height="35.2" rx="7"/>
<text class="t" x="1870.5" y="2121.3">二、主要做法</text></g>
<g id="p2-2a"><rect class="box" x="2002" y="1864" width="331" height="139.2" rx="7"/>
<text class="t" x="2010.5" y="1889"><tspan x="2010.5">1、领导重视，抓好落实，爱国卫生工作推进</tspan><tspan x="2010.5" dy="20.2">力度大。爱卫月活动中，区四套班子主要领导</tspan><tspan x="2010.5" dy="20.2">、镇街领导都能亲自参与，在创卫、健康教育</tspan><tspan x="2010.5" dy="20.2">、除四害工作中，分管领导深入现场调查、研</tspan><tspan x="2010.5" dy="20.2">究，解决重点难点问题，并在人力、物力、财</tspan><tspan x="2010.5" dy="20.2">力上给予很大的支持。</tspan></text></g>
<g id="p2-2b"><rect class="box" x="2002" y="2036" width="331" height="159.4" rx="7"/>
<text class="t" x="2010.5" y="2061"><tspan x="2010.5">2、注重协调，充分发挥各职能部门的作用。</tspan><tspan x="2010.5" dy="20.2">爱卫工作面广，涉及的部门多且又容易使一些</tspan><tspan x="2010.5" dy="20.2">职能部门忽视。对此，区政府专门制定爱国卫</tspan><tspan x="2010.5" dy="20.2">生工作职责分工，明确了各职能部门的责任、</tspan><tspan x="2010.5" dy="20.2">权力，调动了各职能部门的积极性，多次召开</tspan><tspan x="2010.5" dy="20.2">各种类型、形式的联席会议，就爱卫工作中出</tspan><tspan x="2010.5" dy="20.2">现的各种问题现场办公解决。</tspan></text></g>
<g id="p2-2c"><rect class="box" x="2002" y="2228" width="331" height="139.2" rx="7"/>
<text class="t" x="2010.5" y="2253"><tspan x="2010.5">3、加强宣传教育，使爱国卫生工作深入人心</tspan><tspan x="2010.5" dy="20.2">。充分利用广播、电视、宣传册、宣传栏等方</tspan><tspan x="2010.5" dy="20.2">式，多层次、全方位地开展宣传教育工作，使</tspan><tspan x="2010.5" dy="20.2">改水、改厕、除四害、健康教育行为养成，环</tspan><tspan x="2010.5" dy="20.2">境卫生综合整治的意义家喻户晓，深入人心，</tspan><tspan x="2010.5" dy="20.2">并都能积极主动地投身到爱国卫生活动中来。</tspan></text></g>

<g id="p2-n3"><rect class="box" x="1862" y="2753" width="126" height="35.2" rx="7"/>
<text class="t" x="1870.5" y="2776.3">三、存在的问题</text></g>
<g id="p2-3a"><rect class="box" x="2018" y="2401" width="331" height="98.8" rx="7"/>
<text class="t" x="2026.5" y="2426"><tspan x="2026.5">按照《南京市爱国卫生管理条例》、《南京市</tspan><tspan x="2026.5" dy="20.2">公共场所禁止吸烟暂行规定》开展爱国卫生行</tspan><tspan x="2026.5" dy="20.2">政执法力度不够，检查、督促效果不明显。四</tspan><tspan x="2026.5" dy="20.2">、明年工作打算</tspan></text></g>
<g id="p2-3b"><rect class="box" x="2018" y="2532" width="331" height="78.6" rx="7"/>
<text class="t" x="2026.5" y="2557"><tspan x="2026.5">1、加大爱卫宣传力度，巩固爱卫工作家喻户</tspan><tspan x="2026.5" dy="20.2">晓，深入人心的大好局面，广泛动员社会各方</tspan><tspan x="2026.5" dy="20.2">面的力量关心支持参与爱国卫生工作。</tspan></text></g>
<g id="p2-3c"><rect class="box" x="2018" y="2642" width="331" height="78.6" rx="7"/>
<text class="t" x="2026.5" y="2667"><tspan x="2026.5">2、继续做好农村二次改水工作，完成主管道</tspan><tspan x="2026.5" dy="20.2">改造40公里，加强农村饮用水卫生监督，进</tspan><tspan x="2026.5" dy="20.2">一步提高供水质量。</tspan></text></g>
<g id="p2-3d"><rect class="box" x="2018" y="2753" width="331" height="58.4" rx="7"/>
<text class="t" x="2026.5" y="2778"><tspan x="2026.5">3、认真做好农村改厕工作，加强环境卫生整</tspan><tspan x="2026.5" dy="20.2">治力度，新增无害化户厕5000个。</tspan></text></g>
<g id="p2-3e"><rect class="box" x="2018" y="2843" width="331" height="58.4" rx="7"/>
<text class="t" x="2026.5" y="2868"><tspan x="2026.5">4、积极推进卫生镇街村创建工作，做好已创</tspan><tspan x="2026.5" dy="20.2">建成的卫生镇街村巩固提高和长效管理工作。</tspan></text></g>
<g id="p2-3f"><rect class="box" x="2018" y="2934" width="331" height="78.6" rx="7"/>
<text class="t" x="2026.5" y="2959"><tspan x="2026.5">5、开展除四害综合防治活动，认真抓好春秋</tspan><tspan x="2026.5" dy="20.2">季灭鼠、灭蟑，夏季灭蚊灭蝇工作，严格将四</tspan><tspan x="2026.5" dy="20.2">害密度控制在国家规定的标准以内。</tspan></text></g>
<g id="p2-3g"><rect class="box" x="2018" y="3044" width="331" height="98.8" rx="7"/>
<text class="t" x="2026.5" y="3069"><tspan x="2026.5">6、做好"亿万农民健康促进行动"工作，加强</tspan><tspan x="2026.5" dy="20.2">镇村健康教育阵地建设，不断提高健康教育覆</tspan><tspan x="2026.5" dy="20.2">盖面，努力提高广大市民基本卫生知识知晓率</tspan><tspan x="2026.5" dy="20.2">和行为行成率</tspan></text></g>

<!-- 篇4 -->
<g id="p4-n1"><rect class="box" x="1862" y="3215" width="268" height="35.2" rx="7"/>
<text class="t" x="1870.5" y="3238.3">一、加强领导，建立创卫长效机制。</text></g>
<g id="p4-1"><rect class="box" x="2161" y="3175" width="331" height="119" rx="7"/>
<text class="t" x="2169.5" y="3200"><tspan x="2169.5">按照《国家卫生城市标准》要求，进一步加强</tspan><tspan x="2169.5" dy="20.2">学校卫生创建工作的组织建设，进一步落实创</tspan><tspan x="2169.5" dy="20.2">卫目标工作责任，人人参与创建的新格局。完</tspan><tspan x="2169.5" dy="20.2">善制度建设，确保人员、经费落实，明确工作</tspan><tspan x="2169.5" dy="20.2">任务和责任人，严格考核奖惩制度。</tspan></text></g>
<g id="p4-n2"><rect class="box" x="1862" y="3428" width="268" height="35.2" rx="7"/>
<text class="t" x="1870.5" y="3451.3">二、营造氛围，开展多种宣传活动。</text></g>
<g id="p4-2"><rect class="box" x="2161" y="3326" width="331" height="240.2" rx="7"/>
<text class="t" x="2169.5" y="3351"><tspan x="2169.5">利用多种途径，宣传健康、文明的生活方式，</tspan><tspan x="2169.5" dy="20.2">宣传卫生健康的基本知识，形成良好的舆论氛</tspan><tspan x="2169.5" dy="20.2">围，促进良好文明习惯的养成。设立健康教育</tspan><tspan x="2169.5" dy="20.2">专栏，充分利用黑板报、校园广播、学校网站</tspan><tspan x="2169.5" dy="20.2">和各种集会，宣传创卫知识，普及创卫知识。</tspan><tspan x="2169.5" dy="20.2">以富有创意的活动为载体，形成人人参与创建</tspan><tspan x="2169.5" dy="20.2">，个个争先创优的良好局面。评选学校师范德</tspan><tspan x="2169.5" dy="20.2">典型和服务标兵，大力促进师德建设；积极创</tspan><tspan x="2169.5" dy="20.2">建省级文明单位，推动学校卫生工作再攀新高</tspan><tspan x="2169.5" dy="20.2">；创建文明班集体和评选文明处室、文明教工</tspan><tspan x="2169.5" dy="20.2">，促进师生员工文明卫生素养的提高。</tspan></text></g>
<g id="p4-n3"><rect class="box" x="1862" y="3732" width="268" height="35.2" rx="7"/>
<text class="t" x="1870.5" y="3755.3">三、突出重点，加强师生健康教育。</text></g>
<g id="p4-3"><rect class="box" x="2161" y="3600" width="331" height="300.8" rx="7"/>
<text class="t" x="2169.5" y="3625"><tspan x="2169.5">搞好健康教育。按照《学校卫生工作条例》和</tspan><tspan x="2169.5" dy="20.2">《国家卫生城市标准》的要求，将健康教育课</tspan><tspan x="2169.5" dy="20.2">纳入教学计划，认真做好师生健康教育知识的</tspan><tspan x="2169.5" dy="20.2">学习和传授，确保健康知识知晓率80%以上</tspan><tspan x="2169.5" dy="20.2">，加强健康教师的师资培训，不断提高健康教</tspan><tspan x="2169.5" dy="20.2">育教学水平，有计划地进行卫生知识讲座，传</tspan><tspan x="2169.5" dy="20.2">授季节性、流行性疾病的防治知识，特别是对</tspan><tspan x="2169.5" dy="20.2">流行性感冒、结核病等的防治和宣传。定期出</tspan><tspan x="2169.5" dy="20.2">好黑板报、布置宣传窗，宣传卫生保健知识，</tspan><tspan x="2169.5" dy="20.2">培养学生良好的卫生习惯。切实做好健康教育</tspan><tspan x="2169.5" dy="20.2">评价，对照《学校健康教育评价方案》，认真</tspan><tspan x="2169.5" dy="20.2">做好自评，做到不漏条不漏项，不断完善，确</tspan><tspan x="2169.5" dy="20.2">保健康教育各项指标全部高质量达到规定的标</tspan><tspan x="2169.5" dy="20.2">准要求。</tspan></text></g>
</g>
</svg>
